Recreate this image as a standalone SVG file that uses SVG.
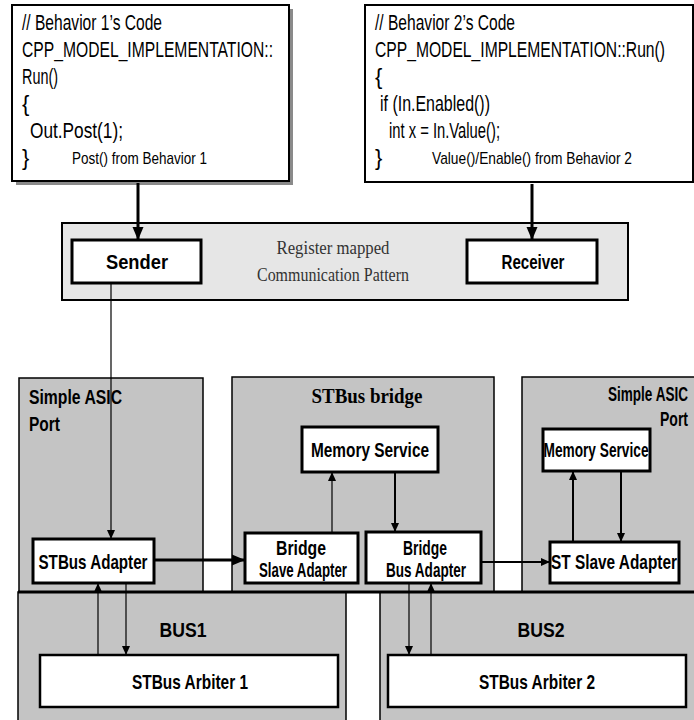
<svg xmlns="http://www.w3.org/2000/svg" width="694" height="720" viewBox="0 0 694 720">
<style>
.code{font-family:"Liberation Sans Narrow","Liberation Sans",Arial,sans-serif;font-size:22px;fill:#000}
.small{font-family:"Liberation Sans Narrow","Liberation Sans",Arial,sans-serif;font-size:17px;fill:#000}
.lbl{font-family:"Liberation Sans Narrow","Liberation Sans",Arial,sans-serif;font-size:21px;font-weight:bold;fill:#000}
.ser{font-family:"Liberation Serif","Times New Roman",serif;font-size:19px;fill:#333}
.serb{font-family:"Liberation Serif","Times New Roman",serif;font-size:21px;font-weight:bold;fill:#000}
.codebox{fill:#fff;stroke:#000;stroke-width:2}
.shadow{fill:#8a8a8a}
.cont{fill:#c4c4c4;stroke:#000;stroke-width:1.5}
.node{fill:#fff;stroke:#000;stroke-width:3}
.thick{stroke:#000;stroke-width:3;fill:none}
.mid{stroke:#000;stroke-width:2;fill:none}
.thin{stroke:#000;stroke-width:1.2;fill:none}
</style>
<defs>
<marker id="ah" markerUnits="userSpaceOnUse" markerWidth="14" markerHeight="14" refX="13" refY="7" orient="auto"><path d="M0,1.5 L13,7 L0,12.5 Z" fill="#000"/></marker>
<marker id="ahs" markerUnits="userSpaceOnUse" markerWidth="10" markerHeight="10" refX="9" refY="5" orient="auto"><path d="M0,1 L9,5 L0,9 Z" fill="#000"/></marker>
</defs>

<g id="code1">
<rect class="shadow" x="16" y="9" width="277" height="176"/>
<rect class="codebox" x="12" y="5" width="277" height="176"/>
<text class="code" x="22" y="30" textLength="140" lengthAdjust="spacingAndGlyphs">// Behavior 1’s Code</text>
<text class="code" x="22" y="57" textLength="251" lengthAdjust="spacingAndGlyphs">CPP_MODEL_IMPLEMENTATION::</text>
<text class="code" x="22" y="84" textLength="36" lengthAdjust="spacingAndGlyphs">Run()</text>
<text class="code" x="22" y="111">{</text>
<text class="code" x="30" y="138" textLength="93" lengthAdjust="spacingAndGlyphs">Out.Post(1);</text>
<text class="code" x="22" y="165">}</text>
<text class="small" x="72" y="164" textLength="135" lengthAdjust="spacingAndGlyphs">Post() from Behavior 1</text>
</g>

<g id="code2">
<rect class="codebox" x="365" y="5" width="328" height="177"/>
<text class="code" x="375" y="30" textLength="140" lengthAdjust="spacingAndGlyphs">// Behavior 2’s Code</text>
<text class="code" x="375" y="57" textLength="290" lengthAdjust="spacingAndGlyphs">CPP_MODEL_IMPLEMENTATION::Run()</text>
<text class="code" x="375" y="84">{</text>
<text class="code" x="380" y="111" textLength="110" lengthAdjust="spacingAndGlyphs">if (In.Enabled())</text>
<text class="code" x="389" y="138" textLength="111" lengthAdjust="spacingAndGlyphs">int x = In.Value();</text>
<text class="code" x="375" y="165">}</text>
<text class="small" x="432" y="164" textLength="200" lengthAdjust="spacingAndGlyphs">Value()/Enable() from Behavior 2</text>
</g>

<g id="pattern">
<rect x="62" y="223" width="566" height="77" fill="#e6e6e6" stroke="#000" stroke-width="2"/>
<text class="ser" x="333" y="254" text-anchor="middle" textLength="113" lengthAdjust="spacingAndGlyphs">Register mapped</text>
<text class="ser" x="333" y="281" text-anchor="middle" textLength="152" lengthAdjust="spacingAndGlyphs">Communication Pattern</text>
</g>
<g id="sender">
<rect class="node" x="72" y="240" width="129" height="43"/>
<text class="lbl" x="137" y="269" text-anchor="middle" textLength="62" lengthAdjust="spacingAndGlyphs">Sender</text>
</g>
<g id="receiver">
<rect class="node" x="467" y="240" width="130" height="43"/>
<text class="lbl" x="533" y="269" text-anchor="middle" textLength="63" lengthAdjust="spacingAndGlyphs">Receiver</text>
</g>

<g id="asic-left">
<rect class="cont" x="19" y="378" width="184" height="214"/>
<text class="lbl" x="29" y="404" textLength="93" lengthAdjust="spacingAndGlyphs">Simple ASIC</text>
<text class="lbl" x="29" y="431" textLength="31" lengthAdjust="spacingAndGlyphs">Port</text>
</g>
<g id="bridge">
<rect class="cont" x="232" y="377" width="262" height="215"/>
<text class="serb" x="367" y="403" text-anchor="middle" textLength="111" lengthAdjust="spacingAndGlyphs">STBus bridge</text>
</g>
<g id="asic-right">
<rect class="cont" x="522" y="377" width="180" height="215"/>
<text class="lbl" x="688" y="401" text-anchor="end" textLength="80" lengthAdjust="spacingAndGlyphs">Simple ASIC</text>
<text class="lbl" x="688" y="426" text-anchor="end" textLength="28" lengthAdjust="spacingAndGlyphs">Port</text>
</g>

<g id="bus1">
<rect class="cont" x="18" y="592" width="328" height="140"/>
<text class="lbl" x="183" y="637" text-anchor="middle" textLength="47" lengthAdjust="spacingAndGlyphs">BUS1</text>
</g>
<g id="bus2">
<rect class="cont" x="380" y="592" width="320" height="140"/>
<text class="lbl" x="541" y="637" text-anchor="middle" textLength="47" lengthAdjust="spacingAndGlyphs">BUS2</text>
</g>
<line x1="18" y1="592" x2="694" y2="592" stroke="#000" stroke-width="3"/>

<g id="mem-bridge">
<rect class="node" x="302" y="427" width="136" height="45"/>
<text class="lbl" x="370" y="457" text-anchor="middle" textLength="118" lengthAdjust="spacingAndGlyphs">Memory Service</text>
</g>
<g id="mem-right">
<rect class="node" x="543" y="429" width="107" height="42"/>
<text class="lbl" x="596" y="457" text-anchor="middle" textLength="105" lengthAdjust="spacingAndGlyphs">Memory Service</text>
</g>
<g id="stbus-adapter">
<rect class="node" x="33" y="539" width="121" height="44"/>
<text class="lbl" x="93" y="569" text-anchor="middle" textLength="109" lengthAdjust="spacingAndGlyphs">STBus Adapter</text>
</g>
<g id="bridge-slave">
<rect class="node" x="245" y="533" width="113" height="50"/>
<text class="lbl" x="301" y="555" text-anchor="middle" textLength="50" lengthAdjust="spacingAndGlyphs">Bridge</text>
<text class="lbl" x="303" y="577" text-anchor="middle" textLength="88" lengthAdjust="spacingAndGlyphs">Slave Adapter</text>
</g>
<g id="bridge-bus">
<rect class="node" x="366" y="532" width="115" height="51"/>
<text class="lbl" x="425" y="555" text-anchor="middle" textLength="44" lengthAdjust="spacingAndGlyphs">Bridge</text>
<text class="lbl" x="426" y="577" text-anchor="middle" textLength="80" lengthAdjust="spacingAndGlyphs">Bus Adapter</text>
</g>
<g id="st-slave">
<rect class="node" x="550" y="542" width="129" height="41"/>
<text class="lbl" x="614" y="569" text-anchor="middle" textLength="126" lengthAdjust="spacingAndGlyphs">ST Slave Adapter</text>
</g>
<g id="arbiter1">
<rect x="40" y="655" width="298" height="52" fill="#fff" stroke="#000" stroke-width="2.5"/>
<text class="lbl" x="190" y="689" text-anchor="middle" textLength="116" lengthAdjust="spacingAndGlyphs">STBus Arbiter 1</text>
</g>
<g id="arbiter2">
<rect x="388" y="655" width="298" height="52" fill="#fff" stroke="#000" stroke-width="2.5"/>
<text class="lbl" x="537" y="689" text-anchor="middle" textLength="116" lengthAdjust="spacingAndGlyphs">STBus Arbiter 2</text>
</g>

<g id="connectors">
<line class="thick" x1="138" y1="183" x2="138" y2="240" marker-end="url(#ah)"/>
<line class="thick" x1="532" y1="184" x2="532" y2="240" marker-end="url(#ah)"/>
<line class="thin" x1="111" y1="283" x2="111" y2="539" marker-end="url(#ahs)"/>
<line class="thick" x1="155" y1="560" x2="245" y2="560" marker-end="url(#ah)"/>
<line class="thin" x1="332" y1="533" x2="332" y2="472" marker-end="url(#ahs)"/>
<line class="mid" x1="395" y1="472" x2="395" y2="532" marker-end="url(#ahs)"/>
<line class="mid" x1="482" y1="562" x2="550" y2="562" marker-end="url(#ahs)"/>
<line class="mid" x1="573" y1="542" x2="573" y2="471" marker-end="url(#ahs)"/>
<line class="mid" x1="621" y1="471" x2="621" y2="542" marker-end="url(#ahs)"/>
<line class="thin" x1="98" y1="655" x2="98" y2="583" marker-end="url(#ahs)"/>
<line class="thin" x1="126" y1="583" x2="126" y2="655" marker-end="url(#ahs)"/>
<line class="thin" x1="409" y1="583" x2="409" y2="655" marker-end="url(#ahs)"/>
<line class="thin" x1="431" y1="655" x2="431" y2="583" marker-end="url(#ahs)"/>
</g>
</svg>
